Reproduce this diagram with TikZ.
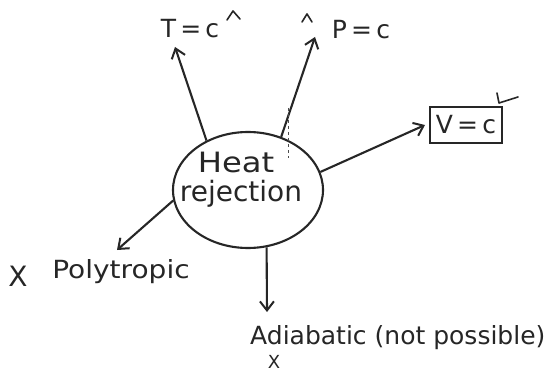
\documentclass[tikz,border=0pt]{standalone}
\usepackage{fontspec}
\setmainfont{DejaVu Sans}
\usetikzlibrary{arrows.meta,shapes.geometric}
\begin{document}
\begin{tikzpicture}[x=1pt,y=-1pt,
  ink/.style={draw=black!85,line width=2.1pt},
  conn/.style={ink,-{Straight Barb[length=9pt,width=14pt,line width=2pt]}},
  lbl/.style={inner sep=0pt,text=black!85,font=\fontsize{25}{27}\selectfont},
  tickmark/.style={draw=black!85,line width=1.6pt,line cap=round,line join=round}]
\useasboundingbox (0,0) rectangle (553,374);
\fill[white] (0,0) rectangle (553,374);

% central ellipse
\node[ellipse,ink,minimum width=150pt,minimum height=116pt] (hr) at (248,190) {};
\node[lbl,font=\fontsize{28}{30}\selectfont,xscale=1.15] (heat) at (236,162) {Heat};
\node[lbl,font=\fontsize{28}{30}\selectfont] (rej) at (241,194) {rejection};

% tips
\coordinate (tT) at (175,47);
\coordinate (tP) at (315,37);
\coordinate (tV) at (425,125);
\coordinate (tPoly) at (117,250);
\coordinate (tA) at (267,312);

\draw[conn] (hr.130) -- (tT);
\draw[conn] (hr.58) -- (tP);
\draw[conn] (hr.14) -- (tV);
\draw[conn] (hr.188) -- (tPoly);
\draw[conn] (hr.288) -- (tA);

% labels
\node[lbl] (lT) at (190,29) {T\,=\,c};
\node[lbl] (lP) at (361,30) {P\,=\,c};
\node[lbl,draw=black!85,line width=1.8pt,minimum width=72pt,minimum height=36pt] (lV) at (466,125) {V\,=\,c};
\node[lbl,font=\fontsize{28}{30}\selectfont] (xP) at (18,276) {X};
\node[lbl,xscale=1.12] (lPoly) at (121,272) {Polytropic};
\node[lbl,anchor=west] (lA) at (250,338) {Adiabatic (not possible)};
\node[lbl,font=\fontsize{18}{20}\selectfont] (xA) at (274,362) {X};

% check marks
\draw[tickmark] (227,20) -- (233,11) -- (240,19);
\draw[tickmark] (302,22) -- (307,14) -- (312,22);
\draw[tickmark] (497,93) -- (499,103) -- (518,97);
\draw[line width=0.8pt,dashed,black!70] (288,108) -- (288,158);
\end{tikzpicture}
\end{document}
